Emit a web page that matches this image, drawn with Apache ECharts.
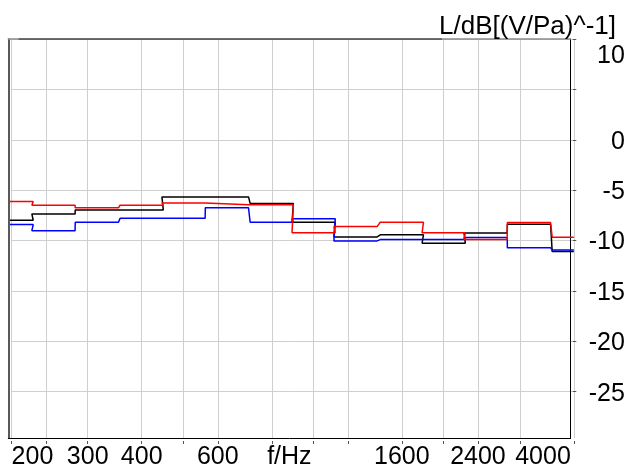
<!DOCTYPE html>
<html>
<head>
<meta charset="utf-8">
<script src="https://cdn.jsdelivr.net/npm/echarts@6/dist/echarts.min.js"></script>
<style>
  html, body { margin: 0; padding: 0; background: #fff; }
  #chart { width: 626px; height: 475px; }
</style>
</head>
<body>
<div id="chart"></div>
<script>
// 1/3-octave band centre frequencies (Hz)
const BAND_CENTERS = [200, 250, 315, 400, 500, 630, 800, 1000, 1250, 1600, 2000, 2500, 3150, 4000];

// Sensitivity per band, dB re 1 V/Pa
const LEVEL_RED   = [-6.14, -6.50, -6.76, -6.50, -6.27, -6.45, -6.44, -9.22, -8.62, -8.19, -9.24, -9.91, -8.22, -9.68];
const LEVEL_BLACK = [-7.99, -7.36, -6.96, -6.96, -5.67, -5.67, -6.32, -8.19, -9.64, -9.44, -10.26, -9.25, -8.39, -11.10];
const LEVEL_BLUE  = [-8.42, -9.02, -8.19, -7.80, -7.80, -6.76, -8.19, -7.83, -10.04, -9.91, -9.91, -9.71, -10.73, -10.93];

// Frequency axis ticks / labels
const FREQ_TICKS  = [200, 240, 300, 400, 500, 600, 800, 1000, 1200, 1600, 2000, 2400, 3000, 4000];
const FREQ_LABELS = [200, 300, 400, 600, 1600, 2400, 4000];

// Level axis ticks / labels
const LEVEL_TICKS  = [-25, -20, -15, -10, -5, 0, 5, 10];
const LEVEL_LABELS = [-25, -20, -15, -10, -5, 0, 10];

const F_MIN = 200, F_MAX = 4000;
const L_MIN = -29.6, L_MAX = 10;

const FONT = "'Liberation Sans', Arial, sans-serif";
const FONT_SIZE = 25;

// Each band is drawn as a flat segment across its 1/3-octave width;
// the top band is cut off at the end of the frequency axis.
function bandSteps(levels) {
  const pts = [];
  BAND_CENTERS.forEach((fc, i) => {
    const lo = fc * Math.pow(10, -0.05);
    const hi = Math.min(fc * Math.pow(10, 0.05), F_MAX);
    pts.push([lo, levels[i]], [hi, levels[i]]);
  });
  return pts;
}

function stepSeries(name, levels, color) {
  return {
    name: name,
    type: 'line',
    xAxisIndex: 0,
    yAxisIndex: 0,
    data: bandSteps(levels),
    showSymbol: false,
    clip: false,
    animation: false,
    lineStyle: { color: color, width: 1.5 },
    emphasis: { disabled: true }
  };
}

const chart = echarts.init(document.getElementById('chart'), null, { renderer: 'canvas' });

const logAxisBase = { gridIndex: 0, type: 'log', logBase: 10, min: F_MIN, max: F_MAX };
const frameAxisBase = {
  gridIndex: 1, type: 'value', min: 0, max: 1,
  axisTick: { show: false }, axisLabel: { show: false }, splitLine: { show: false }
};

chart.setOption({
  animation: false,
  backgroundColor: '#fff',
  title: {
    text: 'L/dB[(V/Pa)^-1]',
    right: 5,
    top: 9,
    textStyle: { fontFamily: FONT, fontSize: 26, fontWeight: 'normal', color: '#000' }
  },
  grid: [
    // plotting area (scales, grid lines, ticks, labels)
    { left: 11.6, right: 52.2, top: 39, bottom: 37, containLabel: false, outerBoundsMode: 'none' },
    // surrounding frame
    { left: 8.3, right: 55.5, top: 39, bottom: 37, containLabel: false, outerBoundsMode: 'none' }
  ],
  xAxis: [
    // data axis with vertical grid
    Object.assign({}, logAxisBase, {
      position: 'bottom',
      axisLine: { show: false, onZero: false },
      axisTick: { show: false, customValues: FREQ_TICKS },
      axisLabel: { show: false },
      splitLine: { show: true, lineStyle: { color: '#cfcfcf', width: 1 } }
    }),
    // ticks and labels, set slightly below the frame
    Object.assign({}, logAxisBase, {
      position: 'bottom',
      offset: 3,
      axisLine: { show: false, onZero: false },
      axisTick: { show: true, customValues: FREQ_TICKS, length: 3, lineStyle: { color: '#555' } },
      axisLabel: {
        show: true,
        customValues: FREQ_LABELS,
        margin: 4,
        fontFamily: FONT,
        fontSize: FONT_SIZE,
        color: '#000',
        alignMinLabel: 'left',
        alignMaxLabel: 'right',
        formatter: v => (Math.round(v) === F_MAX ? '{last|' + Math.round(v) + '}' : String(Math.round(v))),
        rich: {
          last: { fontFamily: FONT, fontSize: FONT_SIZE, color: '#000', padding: [0, 3, 0, 0] }
        }
      },
      splitLine: { show: false }
    }),
    // bottom frame line and axis name
    Object.assign({}, frameAxisBase, {
      position: 'bottom',
      name: 'f/Hz',
      nameLocation: 'middle',
      nameGap: 7,
      nameMoveOverlap: false,
      nameTextStyle: { fontFamily: FONT, fontSize: FONT_SIZE, color: '#000', verticalAlign: 'top' },
      axisLine: { show: true, onZero: false, lineStyle: { color: '#000', width: 1 } }
    }),
    // top frame line
    Object.assign({}, frameAxisBase, {
      position: 'top',
      axisLine: {
        show: true,
        onZero: false,
        lineStyle: {
          width: 1.5,
          color: {
            type: 'linear', x: 0, y: 0, x2: 1, y2: 0,
            colorStops: [
              { offset: 0, color: '#8a8a8a' },
              { offset: 0.022, color: '#8a8a8a' },
              { offset: 0.023, color: '#404040' },
              { offset: 0.768, color: '#404040' },
              { offset: 0.769, color: '#8a8a8a' },
              { offset: 1, color: '#8a8a8a' }
            ]
          }
        }
      }
    })
  ],
  yAxis: [
    // data axis with horizontal grid
    {
      gridIndex: 0,
      type: 'value',
      position: 'right',
      min: L_MIN,
      max: L_MAX,
      axisLine: { show: false, onZero: false },
      axisTick: { show: false, customValues: LEVEL_TICKS },
      axisLabel: { show: false },
      splitLine: { show: true, lineStyle: { color: '#cfcfcf', width: 1 } }
    },
    // ticks and labels
    {
      gridIndex: 0,
      type: 'value',
      position: 'right',
      offset: -1,
      min: L_MIN,
      max: L_MAX,
      axisLine: { show: false, onZero: false },
      axisTick: { show: true, customValues: LEVEL_TICKS, length: 3.5, lineStyle: { color: '#555' } },
      axisLabel: {
        show: true,
        customValues: LEVEL_LABELS,
        align: 'right',
        margin: 52,
        padding: [4, 0, 0, 0],
        fontFamily: FONT,
        fontSize: FONT_SIZE,
        color: '#000',
        formatter: v => (v === L_MAX ? '{top|' + v + '}' : String(v)),
        rich: {
          top: { fontFamily: FONT, fontSize: FONT_SIZE, color: '#000', padding: [31, 0, 0, 0] }
        }
      },
      splitLine: { show: false }
    },
    // right frame line
    Object.assign({}, frameAxisBase, {
      position: 'right',
      axisLine: { show: true, onZero: false, lineStyle: { color: '#000', width: 1 } }
    }),
    // left frame line
    Object.assign({}, frameAxisBase, {
      position: 'left',
      axisLine: { show: true, onZero: false, lineStyle: { color: '#222', width: 1.5 } }
    })
  ],
  series: [
    stepSeries('black', LEVEL_BLACK, '#000000'),
    stepSeries('blue', LEVEL_BLUE, '#0000ff'),
    stepSeries('red', LEVEL_RED, '#ff0000')
  ]
});
</script>
</body>
</html>
